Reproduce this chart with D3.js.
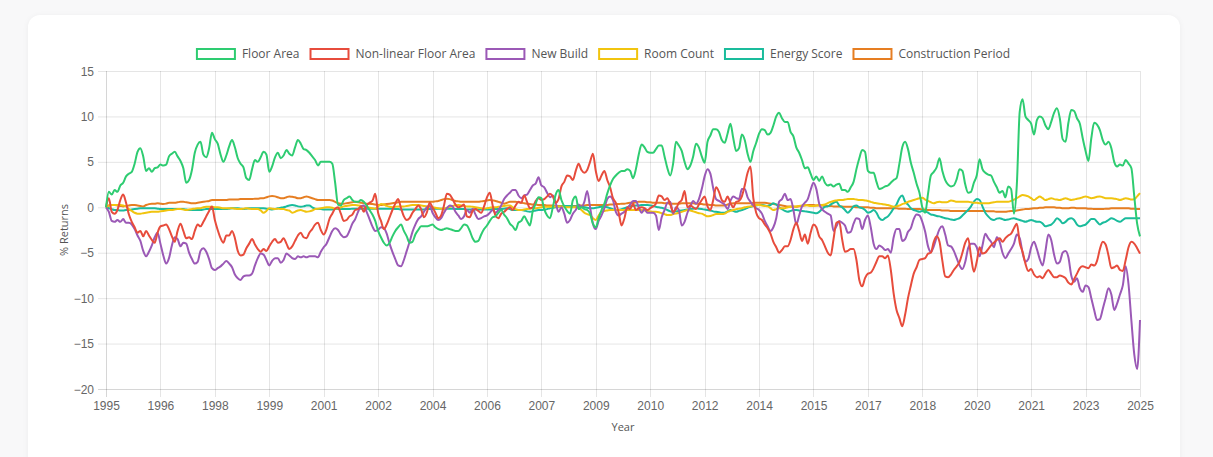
<!DOCTYPE html>
<html>
<head>
<meta charset="utf-8">
<script src="https://cdn.jsdelivr.net/npm/d3@7"></script>
<style>
  html, body { margin: 0; padding: 0; background: #f8f8f9; }
  body { width: 1213px; height: 457px; overflow: hidden; font-family: "Open Sans", sans-serif; }
  #card { position: absolute; left: 28px; top: 15px; width: 1152px; height: 470px; background: #fff;
          border-radius: 12px; box-shadow: 0 1px 6px rgba(0,0,0,0.05); }
  #chart { position: absolute; left: 0; top: 0; }
</style>
</head>
<body>
<div id="card"></div>
<div id="chart"></div>
<script>
// Hedonic index returns, monthly from Jan 1995 to Feb 2025

const startYear = 1995;
const labelStep = 19;  // category axis shows every 19th month

const seriesNames = ["Floor Area", "Non-linear Floor Area", "New Build", "Room Count", "Energy Score", "Construction Period"];
const seriesColors = ["#2ecc71", "#e74c3c", "#9b59b6", "#f1c40f", "#1abc9c", "#e67e22"];

const floorArea = [
  0, 1.7, 1.4, 1.9, 1.7, 2.4, 2.7, 3.4, 3.7, 3.9, 4.8, 6.1,
  6.5, 5.6, 4.0, 4.3, 3.9, 4.3, 4.4, 4.7, 4.6, 4.7, 5.6, 5.9,
  6.1, 5.6, 5.1, 4.3, 2.7, 3.0, 4.1, 6.0, 6.9, 7.2, 5.8, 5.5,
  6.5, 8.2, 7.5, 7.0, 5.8, 5.0, 5.7, 6.7, 7.4, 6.6, 5.4, 4.8,
  4.4, 3.2, 3.0, 4.2, 5.2, 5.0, 5.5, 6.1, 5.8, 3.9, 4.5, 5.5,
  6.0, 5.4, 5.7, 6.3, 5.9, 5.7, 6.6, 7.4, 7.0, 6.4, 6.3, 6.0,
  5.6, 5.2, 4.6, 5.0, 5.0, 5.0, 5.0, 4.8, 2.7, 0.3, 0.2, 0.8,
  1.0, 1.2, 0.8, 0.6, 0.6, 0.8, 0.6, 0.2, -0.3, -0.8, -1.5, -2.6,
  -3.3, -3.9, -4.2, -3.9, -3.2, -2.6, -2.2, -1.9, -2.6, -3.2, -3.9, -3.8,
  -3.0, -2.5, -2.1, -2.1, -2.1, -2.0, -1.9, -2.2, -2.4, -2.5, -2.4, -2.3,
  -2.4, -2.5, -2.6, -2.6, -2.3, -1.9, -2.0, -2.6, -3.4, -3.8, -3.7, -3.0,
  -2.4, -2.0, -1.5, -1.1, -1.0, -0.6, -0.3, -0.8, -1.2, -1.8, -2.1, -2.5,
  -1.7, -1.5, -1.0, -1.5, -2.0, -0.4, 0.4, 1.1, 1.0, -0.2, -0.9, -1.2,
  0.0, 1.4, 1.9, 0.8, 0.1, -0.4, -0.7, 0.8, 1.2, -0.2, 0.0, -0.2,
  -0.3, -0.7, -1.8, -2.2, -1.2, -0.3, 0.4, 1.5, 2.4, 3.1, 3.5, 3.8,
  4.0, 4.0, 4.2, 4.0, 3.2, 4.2, 5.8, 6.9, 6.6, 6.1, 6.0, 6.0,
  6.4, 6.8, 6.8, 5.6, 4.3, 3.5, 4.8, 7.2, 6.8, 6.2, 5.0, 4.2,
  4.6, 5.6, 7.0, 6.6, 5.6, 4.9, 7.2, 7.9, 8.6, 8.6, 8.3, 7.4,
  7.1, 8.1, 9.2, 7.6, 6.2, 6.5, 8.0, 7.4, 5.9, 5.0, 6.2, 7.1,
  8.1, 8.6, 8.5, 8.0, 8.2, 9.0, 10.0, 10.4, 9.8, 9.4, 9.4, 8.3,
  7.8, 6.6, 6.0, 5.2, 4.3, 4.4, 3.7, 3.0, 3.4, 2.9, 3.4, 2.7,
  2.4, 2.5, 2.3, 2.5, 2.6, 1.9, 1.9, 1.7, 2.2, 2.8, 4.2, 5.4,
  6.3, 6.1, 4.0, 3.8, 3.8, 2.8, 2.0, 2.1, 2.3, 2.4, 2.7, 3.0,
  3.2, 4.8, 6.6, 7.2, 6.4, 4.9, 3.8, 2.6, 1.6, 0.0, -0.6, 1.5,
  3.5, 3.9, 4.4, 5.4, 4.0, 3.0, 2.5, 2.3, 2.4, 3.1, 4.2, 4.0,
  2.5, 1.6, 1.7, 2.7, 3.5, 5.3, 4.2, 3.8, 3.6, 3.5, 2.8, 2.2,
  1.6, 1.8, 1.1, 2.3, 2.0, -0.7, 2.5, 10.5, 11.9, 10.0, 9.6, 9.2,
  8.0, 9.6, 10.0, 9.8, 9.0, 8.6, 9.4, 10.4, 10.9, 9.8, 7.5, 7.2,
  9.3, 10.7, 10.6, 9.8, 9.2, 7.6, 6.2, 5.1, 7.6, 9.3, 9.1, 8.5,
  7.4, 6.9, 7.2, 6.5, 5.0, 4.5, 4.7, 4.6, 5.2, 4.8, 4.3, 1.2,
  -1.8, -3.2
];

const nonLinearFloorArea = [
  0, 1.0, -0.5, -0.7, -0.3, 0.8, 1.4, 0.5, -0.8, -1.6, -2.2, -2.8,
  -2.6, -3.2, -2.6, -3.1, -3.6, -3.9, -2.8, -2.1, -2.0, -1.9, -2.4, -3.2,
  -3.8, -2.6, -1.8, -2.6, -3.4, -3.3, -3.5, -2.6, -1.9, -2.1, -1.6, -1.0,
  -0.4, 0.1, -1.4, -2.5, -3.4, -3.9, -3.1, -3.1, -2.6, -3.4, -4.8, -5.3,
  -5.2, -4.5, -4.0, -3.5, -4.1, -4.6, -4.9, -4.6, -4.8, -4.3, -3.8, -3.5,
  -3.9, -3.8, -3.4, -4.0, -4.6, -4.3, -3.7, -3.1, -2.8, -3.3, -3.4, -2.8,
  -2.4, -1.9, -1.7, -2.5, -3.0, -2.4, -1.3, -0.7, -0.15, 0.0, -0.7, -1.5,
  -1.4, -1.0, -0.8, -0.3, -0.2, 0.1, -0.5, 0.2, 0.5, 0.7, 1.5, -0.6,
  -1.5, -2.4, -1.9, -1.1, -0.3, 0.4, 0.9, -0.1, -1.0, -1.4, -1.2, -0.6,
  -0.2, 0.2, -0.2, -1.1, -0.6, 0.5, 0.0, -0.6, -1.2, -0.9, 0.2, 1.5,
  1.4, 0.9, 0.3, 0.0, 0.1, 0.3, -1.0, -1.1, -0.4, -0.2, -0.4, -0.6,
  0.1, 1.1, 1.6, 0.2, -0.9, -1.2, -0.7, -0.5, -0.2, 0.0, -0.3, 0.2,
  0.6, 0.5, 1.3, 0.6, -0.1, 0.0, 0.7, 1.0, 0.8, 0.9, 1.2, 1.5,
  1.2, 0.5, 0.9, 2.3, 2.8, 3.5, 3.4, 3.0, 4.0, 4.8, 4.1, 3.8,
  4.1, 5.0, 5.9, 4.0, 2.9, 3.5, 4.0, 3.0, 2.2, 1.0, 0.5, -0.6,
  -2.0, -1.2, 0.0, -0.2, 0.4, -0.3, -0.1, 0.0, -0.1, -0.3, -0.1, 0.1,
  0.4, 1.3, 1.2, 0.8, 1.0, 0.3, -0.5, -0.2, 0.5, 0.8, 1.8, 0.0,
  0.2, 0.0, -0.2, 0.3, 0.8, 1.2, 0.1, -0.3, 0.8, 2.2, 1.7, 0.8,
  0.6, 1.2, 0.5, 0.0, 0.6, 0.7, 1.2, 2.4, 3.8, 4.5, 1.0, -0.6,
  -1.2, -1.4, -1.9, -2.3, -2.9, -3.8, -4.4, -5.0, -4.7, -4.3, -4.3, -3.6,
  -2.4, -1.7, -2.6, -3.7, -3.0, -4.0, -2.8, -1.9, -2.2, -3.2, -3.6, -4.3,
  -5.0, -5.3, -3.5, -1.7, -1.6, -3.5, -4.9, -4.8, -4.6, -4.6, -5.8, -8.0,
  -8.7, -7.8, -7.3, -7.2, -6.7, -6.0, -5.4, -5.4, -5.6, -5.3, -6.9, -9.5,
  -11.3, -12.2, -13.1, -11.8, -10.0, -8.6, -7.3, -6.6, -5.8, -5.7, -5.6, -5.1,
  -5.0, -3.8, -3.2, -3.8, -5.9, -7.6, -7.7, -7.4, -6.9, -6.5, -6.0, -5.0,
  -3.9, -3.4, -5.4, -7.1, -6.0, -4.4, -5.1, -5.0, -4.6, -4.2, -3.9, -3.6,
  -3.4, -3.8, -3.4, -3.1, -2.9, -2.3, -1.8, -3.9, -4.9, -6.2, -7.0, -6.8,
  -7.4, -7.7, -7.6, -7.8, -7.3, -6.9, -7.3, -7.7, -7.7, -7.5, -7.6, -7.8,
  -8.3, -8.5, -7.9, -7.3, -6.7, -6.5, -6.6, -6.7, -6.3, -6.4, -5.9, -4.6,
  -3.8, -4.1, -5.3, -6.7, -6.6, -6.4, -6.9, -7.0, -5.8, -4.4, -3.8, -4.0,
  -4.5, -5.1
];

const newBuild = [
  0, -0.5, -1.5, -1.6, -1.4, -1.6, -1.3, -1.7, -1.7, -1.9, -2.4, -3.1,
  -3.7, -4.8, -5.4, -4.9, -4.2, -3.3, -2.8, -4.0, -5.3, -6.2, -5.6, -4.2,
  -3.3, -3.5, -4.3, -3.9, -4.0, -5.0, -5.7, -6.2, -6.0, -4.8, -4.5, -4.9,
  -5.7, -6.7, -6.9, -6.7, -6.5, -6.2, -5.9, -6.2, -6.6, -7.4, -7.8, -8.0,
  -7.6, -7.5, -7.5, -7.3, -6.4, -5.6, -5.1, -5.2, -5.8, -6.4, -5.9, -5.6,
  -5.6, -6.1, -5.8, -5.1, -5.3, -5.6, -5.7, -5.4, -5.5, -5.4, -5.5, -5.4,
  -5.4, -5.4, -5.5, -4.9, -4.4, -4.0, -3.3, -2.6, -2.3, -2.5, -3.0, -3.3,
  -3.2, -2.6, -1.8, -1.3, -0.5, 0.1, 0.2, -0.5, -1.3, -2.1, -2.6, -2.5,
  -2.2, -2.3, -2.9, -4.0, -4.9, -5.7, -6.4, -6.5, -5.8, -4.8, -3.8, -2.7,
  -1.9, -1.3, -1.0, -0.5, 0.0, 0.2, -0.6, -1.1, -1.4, -1.2, -0.6, -0.1,
  0.2, 0.1, -0.5, -0.9, -1.3, -1.0, -0.3, -0.6, -0.2, -0.8, -1.3, -1.2,
  -1.0, -0.9, -0.6, -0.3, -0.6, -0.3, 0.2, 0.9, 1.3, 1.6, 1.9, 1.9,
  1.3, 1.0, 1.3, 1.4, 1.9, 2.4, 2.6, 3.3, 2.4, 2.2, 1.6, 1.1,
  1.3, 0.5, -0.5, 0.0, -0.7, -1.7, -1.4, -0.7, -0.3, 0.3, 0.0, 0.6,
  1.8, 0.0, -1.8, -2.4, -1.5, -0.9, -0.1, 0.9, 1.2, 0.8, -0.5, -0.9,
  -0.7, -0.5, -0.1, 0.3, 0.7, 0.7, 0.0, -0.6, -0.2, -0.6, -0.6, -0.6,
  -0.9, -2.5, -1.1, -0.3, 0.5, 0.6, -0.7, 0.0, -0.3, -2.0, -1.6, -0.6,
  0.1, 0.7, 0.4, 0.9, 2.0, 3.4, 4.2, 3.7, 2.1, 0.9, 0.7, 0.5,
  0.3, -0.2, 0.7, 1.2, 1.0, 0.9, 2.0, 2.0, 1.1, 0.6, 0.2, -0.1,
  -0.3, -0.7, -1.5, -2.1, -2.6, -2.2, -1.2, 0.6, 0.9, 1.5, 0.8, 0.9,
  -0.3, -1.9, -0.9, 0.1, 0.5, 0.9, 1.9, 2.7, 2.0, 0.4, -0.2, -0.5,
  -0.7, -0.9, -2.6, -2.1, -1.5, -1.7, -2.0, -2.8, -2.7, -1.8, -1.2, -1.3,
  -2.4, -1.4, -0.9, -2.2, -4.0, -4.6, -4.2, -4.4, -4.7, -4.6, -5.0, -3.3,
  -2.4, -2.4, -3.7, -3.5, -2.7, -2.3, -1.3, -0.8, -0.9, -1.6, -2.7, -4.3,
  -4.9, -4.3, -3.3, -2.4, -2.1, -3.0, -4.2, -4.3, -4.8, -5.6, -6.4, -6.8,
  -6.0, -4.5, -4.0, -4.0, -4.4, -5.4, -4.2, -2.9, -3.4, -3.8, -4.4, -3.3,
  -3.8, -5.0, -5.6, -5.1, -4.6, -4.0, -3.0, -3.4, -5.0, -6.0, -5.7, -4.4,
  -3.8, -4.6, -5.7, -6.4, -4.8, -3.0, -3.6, -5.2, -6.2, -6.0, -5.0, -4.8,
  -5.5, -7.5, -8.2, -7.8, -8.9, -9.3, -8.6, -8.8, -10.0, -11.3, -12.4, -12.3,
  -11.2, -10.0, -8.9, -9.6, -11.3, -10.6, -9.6, -8.6, -6.5, -8.5, -12.5, -16.2,
  -17.8, -12.4
];

const roomCount = [
  0, 0.2, 0.25, 0.25, 0.25, 0.25, 0.2, 0.1, -0.2, -0.4, -0.6, -0.7,
  -0.7, -0.65, -0.6, -0.55, -0.5, -0.5, -0.5, -0.45, -0.4, -0.35, -0.3, -0.3,
  -0.25, -0.2, -0.2, -0.25, -0.3, -0.25, -0.2, -0.15, -0.1, -0.1, 0.0, 0.05,
  0.05, 0.05, 0.0, 0.0, -0.05, -0.1, -0.1, -0.1, -0.1, -0.15, -0.2, -0.2,
  -0.15, -0.1, -0.15, -0.2, -0.2, -0.2, -0.35, -0.6, -0.4, -0.1, -0.15, -0.2,
  -0.15, -0.2, -0.2, -0.3, -0.35, -0.6, -0.5, -0.35, -0.3, -0.4, -0.5, -0.45,
  -0.35, -0.2, -0.15, -0.1, -0.05, 0.0, 0.0, -0.05, -0.15, -0.1, 0.0, 0.1,
  0.15, 0.2, 0.25, 0.25, 0.2, 0.15, 0.05, 0.0, -0.05, -0.1, -0.15, 0.1,
  0.35, 0.3, 0.15, 0.05, 0.0, 0.05, 0.1, 0.1, 0.1, 0.15, 0.2, 0.25,
  0.25, 0.25, 0.2, 0.15, 0.1, 0.05, 0.0, -0.05, -0.1, -0.15, -0.15, -0.05,
  0.05, 0.15, 0.2, 0.25, 0.2, 0.15, 0.1, 0.1, 0.05, 0.0, -0.05, -0.1,
  -0.15, -0.1, -0.05, 0.0, 0.0, 0.05, 0.1, 0.15, 0.2, 0.2, 0.0, -0.2,
  -0.3, -0.3, -0.25, -0.2, -0.15, -0.1, -0.1, -0.05, 0.0, 0.05, 0.05, 0.05,
  0.05, 0.1, 0.1, 0.1, 0.05, 0.0, 0.0, 0.0, 0.0, -0.1, -0.3, -0.6,
  -0.75, -0.85, -1.2, -1.4, -0.9, -0.5, -0.4, -0.35, -0.3, -0.3, -0.3, -0.3,
  -0.3, -0.3, -0.3, -0.3, -0.3, -0.3, -0.3, -0.3, -0.35, -0.4, -0.45, -0.5,
  -0.5, -0.55, -0.65, -0.75, -0.85, -0.85, -0.75, -0.7, -0.6, -0.5, -0.4, -0.3,
  -0.35, -0.45, -0.55, -0.65, -0.7, -0.85, -1.0, -0.95, -0.85, -0.75, -0.75, -0.75,
  -0.7, -0.5, -0.4, -0.3, -0.2, -0.15, -0.1, 0.0, 0.05, 0.1, 0.15, 0.25,
  0.25, 0.2, 0.15, 0.1, -0.1, -0.3, -0.2, -0.1, -0.1, -0.1, 0.0, 0.05,
  0.05, 0.1, 0.15, 0.2, 0.25, 0.2, 0.15, 0.15, 0.2, 0.25, 0.25, 0.3,
  0.45, 0.6, 0.7, 0.75, 0.8, 0.8, 0.85, 0.9, 0.9, 0.9, 0.85, 0.8,
  0.8, 0.75, 0.7, 0.6, 0.5, 0.45, 0.4, 0.35, 0.3, 0.25, 0.15, 0.07,
  0.1, 0.2, 0.35, 0.45, 0.6, 0.7, 0.8, 0.9, 1.0, 1.05, 0.85, 0.7,
  0.55, 0.45, 0.55, 0.6, 0.55, 0.55, 0.6, 0.75, 0.7, 0.6, 0.6, 0.6,
  0.6, 0.6, 0.55, 0.5, 0.5, 0.45, 0.45, 0.45, 0.45, 0.5, 0.55, 0.6,
  0.6, 0.6, 0.6, 0.6, 0.7, 0.85, 1.0, 1.2, 1.35, 1.3, 1.2, 1.0,
  0.8, 1.0, 1.2, 1.0, 0.8, 0.9, 1.0, 0.9, 0.85, 0.8, 0.9, 1.0,
  0.9, 0.8, 0.85, 0.95, 1.0, 1.1, 1.2, 1.1, 1.0, 1.05, 1.15, 1.2,
  1.1, 1.0, 1.0, 1.0, 0.95, 0.9, 0.8, 0.9, 1.0, 0.95, 0.85, 0.9,
  1.2, 1.55
];

const energyScore = [
  0, -0.1, -0.2, -0.3, -0.3, -0.35, -0.35, -0.3, -0.3, -0.25, -0.2, -0.15,
  -0.1, -0.1, -0.1, -0.1, -0.1, -0.1, -0.15, -0.2, -0.2, -0.2, -0.2, -0.2,
  -0.2, -0.2, -0.2, -0.2, -0.25, -0.3, -0.3, -0.3, -0.3, -0.3, -0.25, -0.2,
  -0.2, -0.2, -0.2, -0.2, -0.2, -0.2, -0.2, -0.15, -0.1, -0.1, -0.1, -0.15,
  -0.2, -0.15, -0.1, -0.1, -0.1, -0.1, -0.1, -0.1, -0.15, -0.2, -0.25, -0.2,
  -0.1, -0.05, 0.0, 0.1, 0.2, 0.25, 0.2, 0.1, 0.05, 0.1, 0.2, 0.2,
  0.0, -0.15, -0.2, -0.2, -0.25, -0.25, -0.25, -0.25, -0.2, -0.2, -0.2, -0.2,
  -0.2, -0.2, -0.15, -0.15, -0.15, -0.15, -0.15, -0.15, -0.15, -0.15, -0.15, -0.15,
  -0.15, -0.15, -0.15, -0.15, -0.15, -0.2, -0.2, -0.25, -0.25, -0.25, -0.25, -0.25,
  -0.25, -0.25, -0.25, -0.25, -0.2, -0.2, -0.2, -0.15, -0.15, -0.15, -0.15, -0.15,
  -0.15, -0.15, -0.2, -0.2, -0.2, -0.2, -0.25, -0.25, -0.25, -0.25, -0.25, -0.25,
  -0.25, -0.25, -0.25, -0.2, -0.2, -0.2, -0.2, -0.15, -0.1, -0.2, -0.3, -0.3,
  -0.3, -0.3, -0.35, -0.45, -0.5, -0.45, -0.35, -0.3, -0.3, -0.25, -0.2, -0.1,
  -0.05, 0.0, 0.05, 0.1, 0.15, 0.15, 0.15, 0.1, 0.1, 0.05, 0.05, 0.0,
  -0.05, -0.1, -0.1, -0.05, 0.0, 0.05, 0.05, 0.0, -0.1, -0.2, -0.3, -0.3,
  -0.2, -0.1, 0.0, 0.1, 0.15, 0.2, 0.2, 0.25, 0.25, 0.25, 0.2, 0.15,
  0.05, 0.0, -0.05, -0.15, -0.3, -0.45, -0.5, -0.45, -0.4, -0.35, -0.3, -0.25,
  -0.2, -0.15, -0.1, -0.15, -0.2, -0.25, -0.3, -0.35, -0.45, -0.5, -0.55, -0.6,
  -0.6, -0.45, -0.3, -0.4, -0.5, -0.4, -0.3, -0.2, -0.05, 0.05, 0.15, 0.2,
  0.25, 0.25, 0.2, 0.15, 0.25, 0.45, 0.3, 0.0, -0.2, -0.4, -0.5, -0.4,
  -0.3, -0.3, -0.35, -0.4, -0.45, -0.5, -0.55, -0.6, -0.65, -0.5, -0.2, 0.05,
  0.1, 0.3, 0.5, 0.6, 0.2, 0.0, -0.3, -0.6, -0.3, 0.1, 0.2, 0.0,
  -0.1, -0.3, -0.6, -0.5, -0.3, -0.6, -1.2, -1.4, -1.2, -1.0, -0.6, -0.1,
  0.3, 1.0, 1.3, 0.6, 0.3, -0.1, -0.3, -0.4, -0.5, -0.4, -0.45, -0.6,
  -0.8, -0.85, -0.95, -1.0, -1.1, -1.2, -1.25, -1.35, -1.4, -1.3, -1.2, -0.9,
  -0.6, -0.3, 0.1, 0.6, 0.9, 0.8, 0.1, -0.6, -1.0, -1.3, -1.4, -1.25,
  -1.2, -1.3, -1.4, -1.35, -1.25, -1.2, -1.3, -1.4, -1.5, -1.6, -1.5, -1.4,
  -1.5, -1.6, -1.6, -1.8, -2.1, -2.0, -1.9, -1.6, -1.2, -1.4, -1.75, -1.6,
  -1.3, -1.2, -1.4, -1.9, -2.1, -2.0, -1.9, -1.6, -1.3, -1.3, -1.6, -1.9,
  -1.7, -1.6, -1.4, -1.2, -1.3, -1.5, -1.6, -1.4, -1.2, -1.2, -1.2, -1.2,
  -1.2, -1.2
];

const constructionPeriod = [
  0, 0.2, 0.25, 0.25, 0.2, 0.15, 0.1, 0.15, 0.2, 0.25, 0.25, 0.2,
  0.15, 0.1, 0.25, 0.35, 0.4, 0.4, 0.45, 0.4, 0.35, 0.4, 0.5, 0.5,
  0.5, 0.55, 0.6, 0.6, 0.55, 0.5, 0.45, 0.45, 0.5, 0.55, 0.6, 0.65,
  0.7, 0.8, 0.8, 0.8, 0.8, 0.8, 0.8, 0.85, 0.85, 0.85, 0.85, 0.9,
  0.9, 0.9, 0.9, 0.9, 0.95, 0.95, 1.0, 1.0, 1.1, 1.2, 1.25, 1.2,
  1.1, 1.0, 1.0, 1.1, 1.2, 1.15, 1.1, 1.0, 1.0, 1.1, 1.2, 1.1,
  1.0, 0.9, 0.8, 0.8, 0.8, 0.8, 0.8, 0.75, 0.6, 0.45, 0.4, 0.4,
  0.45, 0.5, 0.55, 0.6, 0.55, 0.5, 0.45, 0.4, 0.4, 0.35, 0.3, 0.25,
  0.25, 0.3, 0.35, 0.4, 0.45, 0.5, 0.55, 0.6, 0.6, 0.6, 0.6, 0.6,
  0.6, 0.6, 0.6, 0.6, 0.6, 0.6, 0.6, 0.65, 0.7, 0.8, 0.9, 0.95,
  0.9, 0.8, 0.7, 0.65, 0.6, 0.6, 0.6, 0.6, 0.6, 0.6, 0.6, 0.65,
  0.7, 0.75, 0.8, 0.75, 0.7, 0.6, 0.5, 0.4, 0.5, 0.6, 0.6, 0.6,
  0.55, 0.5, 0.45, 0.4, 0.35, 0.3, 0.3, 0.25, 0.25, 0.25, 0.2, 0.2,
  0.2, 0.15, 0.15, 0.15, 0.15, 0.15, 0.15, 0.15, 0.15, 0.2, 0.2, 0.2,
  0.25, 0.25, 0.25, 0.25, 0.25, 0.25, 0.25, 0.25, 0.3, 0.3, 0.35, 0.35,
  0.4, 0.4, 0.45, 0.5, 0.5, 0.55, 0.6, 0.6, 0.6, 0.55, 0.55, 0.5,
  0.5, 0.5, 0.5, 0.45, 0.45, 0.4, 0.4, 0.4, 0.4, 0.45, 0.45, 0.45,
  0.45, 0.45, 0.4, 0.4, 0.35, 0.3, 0.3, 0.25, 0.25, 0.2, 0.2, 0.2,
  0.2, 0.3, 0.4, 0.45, 0.45, 0.45, 0.45, 0.45, 0.45, 0.45, 0.5, 0.5,
  0.5, 0.5, 0.5, 0.45, 0.4, 0.35, 0.3, 0.25, 0.2, 0.15, 0.1, 0.1,
  0.1, 0.05, 0.1, 0.15, 0.2, 0.25, 0.25, 0.25, 0.2, 0.2, 0.2, 0.15,
  0.15, 0.15, 0.1, 0.1, 0.1, 0.1, 0.05, 0.05, 0.05, 0.05, 0.0, 0.0,
  0.0, 0.0, 0.0, -0.05, -0.05, -0.1, -0.1, -0.1, -0.1, -0.1, -0.1, -0.1,
  -0.1, -0.15, -0.15, -0.15, -0.2, -0.2, -0.2, -0.2, -0.2, -0.25, -0.25, -0.3,
  -0.3, -0.3, -0.3, -0.3, -0.35, -0.35, -0.35, -0.4, -0.4, -0.4, -0.4, -0.4,
  -0.4, -0.4, -0.4, -0.4, -0.4, -0.4, -0.4, -0.4, -0.45, -0.45, -0.45, -0.5,
  -0.5, -0.5, -0.5, -0.45, -0.4, -0.4, -0.35, -0.3, -0.25, -0.2, -0.2, -0.15,
  -0.1, -0.1, -0.05, -0.05, 0.0, 0.0, 0.0, 0.0, -0.05, -0.05, -0.1, -0.1,
  -0.1, -0.05, -0.05, -0.1, -0.1, -0.1, -0.1, -0.15, -0.15, -0.2, -0.2, -0.2,
  -0.2, -0.15, -0.15, -0.1, -0.1, -0.1, -0.1, -0.1, -0.1, -0.1, -0.15, -0.15,
  -0.2, -0.2
];

const yTicks = [15, 10, 5, 0, -5, -10, -15, -20];

// --- LAYOUT ---
const width = 1213, height = 457;
const plot = { left: 106, right: 1140, top: 71, bottom: 389 };

const allSeries = [floorArea, nonLinearFloorArea, newBuild, roomCount, energyScore, constructionPeriod];
const n = floorArea.length;
const monthLabels = d3.range(n).map(i => String(startYear + Math.floor(i / 12)));
const tickIdx = d3.range(0, n, labelStep);

const x = d3.scaleLinear().domain([0, n - 1]).range([plot.left, plot.right]);
const y = d3.scaleLinear().domain([-20, 15]).range([plot.bottom, plot.top]);

const svg = d3.select("#chart").append("svg")
    .attr("width", width).attr("height", height)
    .style("font-family", "'Open Sans', sans-serif");

// --- GRID ---
const grid = svg.append("g").attr("class", "grid");
grid.selectAll("line.h").data(yTicks).join("line")
    .attr("x1", plot.left - 8).attr("x2", plot.right)
    .attr("y1", d => y(d) + 0.5).attr("y2", d => y(d) + 0.5)
    .attr("stroke", d => d === -20 ? "rgba(0,0,0,0.16)" : "rgba(0,0,0,0.1)");
grid.selectAll("line.v").data(tickIdx).join("line")
    .attr("x1", d => Math.round(x(d)) + 0.5).attr("x2", d => Math.round(x(d)) + 0.5)
    .attr("y1", plot.top).attr("y2", plot.bottom + 8)
    .attr("stroke", (d, i) => i === 0 ? "rgba(0,0,0,0.16)" : "rgba(0,0,0,0.1)");

// --- AXES ---
const yAxis = svg.append("g")
    .attr("transform", `translate(${plot.left - 12},0)`)
    .call(d3.axisLeft(y).tickValues(yTicks).tickSize(0).tickPadding(0));
yAxis.select(".domain").remove();
yAxis.selectAll("text").attr("font-size", 12).attr("fill", "#666").attr("dy", "0.34em");

const xAxis = svg.append("g")
    .attr("transform", `translate(0,${plot.bottom + 10})`)
    .call(d3.axisBottom(x).tickValues(tickIdx).tickFormat(i => monthLabels[i]).tickSize(0).tickPadding(0));
xAxis.select(".domain").remove();
xAxis.selectAll("text").attr("font-size", 12).attr("fill", "#666").attr("dy", "0.9em");

svg.append("text")
    .attr("transform", `translate(68,${(plot.top + plot.bottom) / 2}) rotate(-90)`)
    .attr("text-anchor", "middle").attr("font-size", 11).attr("fill", "#555")
    .text("% Returns");

svg.append("text")
    .attr("x", (plot.left + plot.right) / 2).attr("y", 431)
    .attr("text-anchor", "middle").attr("font-size", 11).attr("fill", "#555")
    .text("Year");

// --- LINES ---
const line = d3.line()
    .x((d, i) => x(i))
    .y(d => y(d))
    .curve(d3.curveMonotoneX);

// draw last dataset first so Floor Area ends on top
const lines = svg.append("g").attr("class", "lines");
d3.range(allSeries.length).reverse().forEach(k => {
    lines.append("path")
        .datum(allSeries[k])
        .attr("d", line)
        .attr("fill", "none")
        .attr("stroke", seriesColors[k])
        .attr("stroke-width", 2)
        .attr("stroke-linejoin", "round");
});

// --- LEGEND ---
const legend = svg.append("g").attr("class", "legend");
const boxW = 40, boxH = 12, fontSize = 12, itemGap = 10;
const items = seriesNames.map((name, k) => {
    const g = legend.append("g");
    g.append("rect")
        .attr("x", 1).attr("y", 1).attr("width", boxW - 2).attr("height", boxH - 2)
        .attr("fill", "#fff").attr("stroke", seriesColors[k]).attr("stroke-width", 2);
    const t = g.append("text")
        .attr("x", boxW + fontSize / 2).attr("y", boxH / 2).attr("dy", "0.35em")
        .attr("font-size", fontSize).attr("fill", "#555")
        .text(name);
    return { g, w: boxW + fontSize / 2 + t.node().getComputedTextLength() };
});
const totalW = d3.sum(items, d => d.w) + itemGap * (items.length - 1);
let lx = (plot.left + plot.right) / 2 - totalW / 2 - 20;
items.forEach(it => {
    it.g.attr("transform", `translate(${lx},48)`);
    lx += it.w + itemGap;
});
</script>
</body>
</html>
